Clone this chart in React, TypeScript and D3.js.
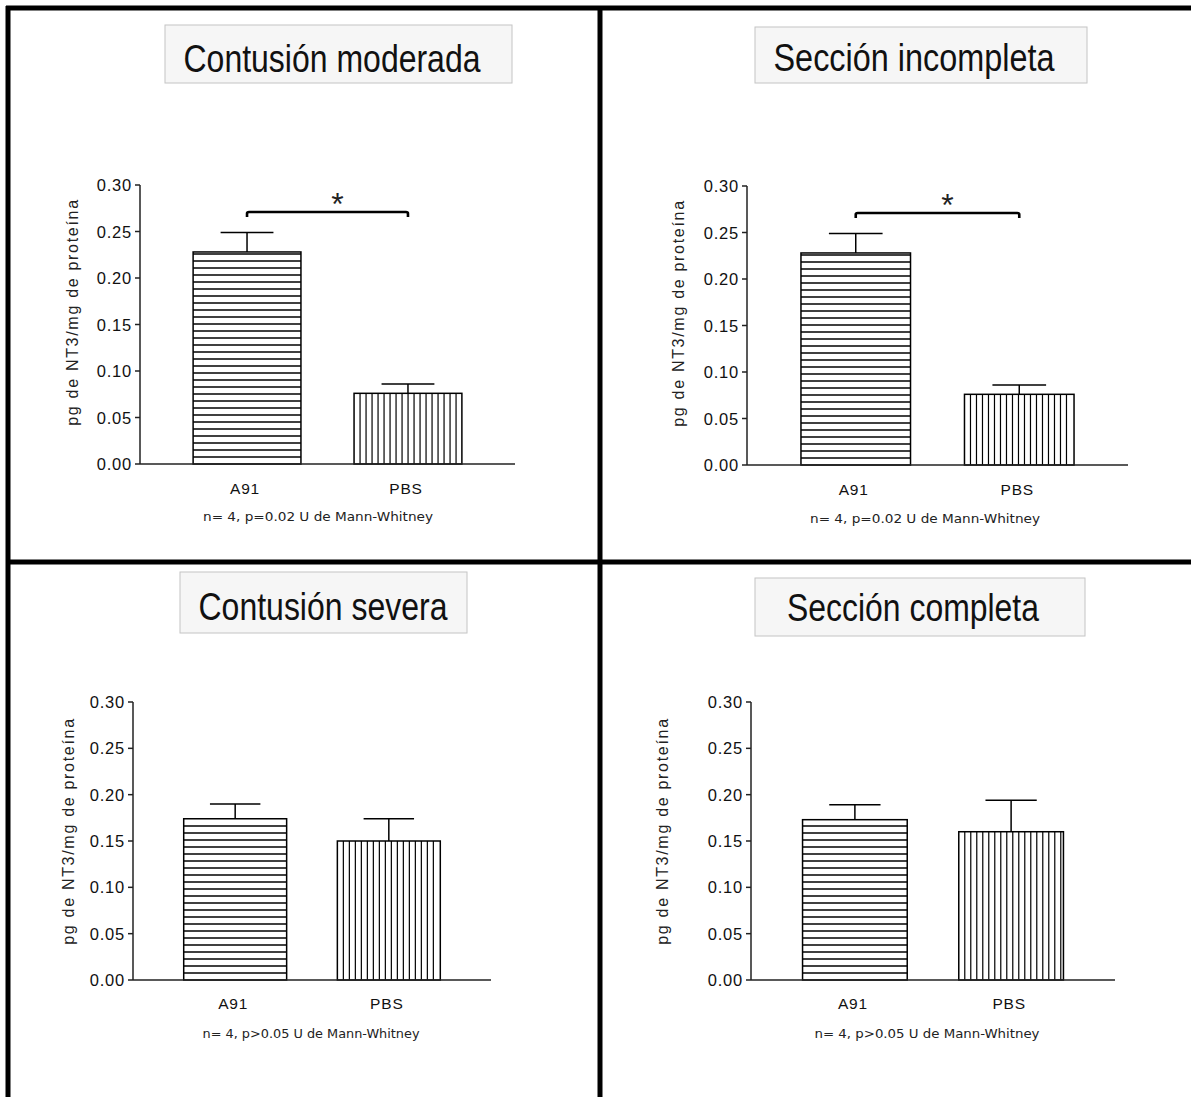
import React from "react";
import * as d3 from "d3";

// ---------- data ----------
const panelTitles = ["Contusión moderada", "Sección incompleta", "Contusión severa", "Sección completa"];
const categories = ["A91", "PBS"];
const meanA91 = [0.228, 0.228, 0.174, 0.173];
const meanPBS = [0.076, 0.076, 0.150, 0.160];
const errA91 = [0.021, 0.021, 0.016, 0.016];
const errPBS = [0.010, 0.010, 0.024, 0.034];
const significant = [true, true, false, false];
const notes = [
  "n= 4, p=0.02 U de Mann-Whitney",
  "n= 4, p=0.02 U de Mann-Whitney",
  "n= 4, p>0.05 U de Mann-Whitney",
  "n= 4, p>0.05 U de Mann-Whitney",
];
const yTicks = [0, 0.05, 0.1, 0.15, 0.2, 0.25, 0.3];
const yLabel = "pg de NT3/mg de proteína";
const bracketLevel = 0.271;

// ---------- layout (positions / styles) ----------
const layouts = [
  { x0: 140, x1: 515, yTop: 185, yBot: 464, labX: 78, labY: 312, box: [165, 25, 347, 58], titleX: 332, titleY: 72, titleW: 297, catY: 494, noteX: 318, noteY: 521, noteW: 230 },
  { x0: 747, x1: 1128, yTop: 186, yBot: 465, labX: 684, labY: 313, box: [755, 27, 332, 56], titleX: 914, titleY: 71, titleW: 281, catY: 495, noteX: 925, noteY: 523, noteW: 230 },
  { x0: 133, x1: 491, yTop: 702, yBot: 980, labX: 74, labY: 831, box: [180, 572, 287, 61], titleX: 323, titleY: 620, titleW: 249, catY: 1009, noteX: 311, noteY: 1038, noteW: 217 },
  { x0: 751, x1: 1115, yTop: 702, yBot: 980, labX: 668, labY: 831, box: [755, 578, 330, 58], titleX: 913, titleY: 621, titleW: 252, catY: 1009, noteX: 927, noteY: 1038, noteW: 225 },
];

const W = 1191;
const H = 1097;
const sans = "'Liberation Sans', Arial, sans-serif";

function Panel({ i }: { i: number }) {
  const L = layouts[i];
  const y = d3.scaleLinear().domain([0, 0.3]).range([L.yBot, L.yTop]);
  const x = d3.scaleBand<string>().domain(categories).range([L.x0, L.x1]).padding(0.33);
  const bw = x.bandwidth();
  const means = [meanA91[i], meanPBS[i]];
  const errs = [errA91[i], errPBS[i]];
  const [bx, by, bwid, bh] = L.box;

  return (
    <g>
      {/* title box */}
      <rect x={bx} y={by} width={bwid} height={bh} fill="#f6f6f6" stroke="#c4c4c4" strokeWidth={1} />
      <text x={L.titleX} y={L.titleY} textAnchor="middle" fontFamily={sans} fontSize={38}
        textLength={L.titleW} lengthAdjust="spacingAndGlyphs" fill="#111">{panelTitles[i]}</text>

      {/* y axis label */}
      <text transform={`translate(${L.labX},${L.labY}) rotate(-90)`} textAnchor="middle"
        fontFamily={sans} fontSize={16} letterSpacing={1.7} fill="#222">{yLabel}</text>

      {/* bars */}
      {categories.map((c, k) => {
        const x0 = x(c)!;
        const top = y(means[k]);
        const bot = y(0);
        const lines: JSX.Element[] = [];
        if (k === 0) {
          d3.range(bot - 7, top + 2, -7).forEach((yy, j) =>
            lines.push(<line key={j} x1={x0} x2={x0 + bw} y1={yy} y2={yy} stroke="#000" strokeWidth={1.3} />)
          );
        } else {
          d3.range(x0 + 6, x0 + bw - 2, 6).forEach((xx, j) =>
            lines.push(<line key={j} x1={xx} x2={xx} y1={top} y2={bot} stroke="#000" strokeWidth={1.2} />)
          );
        }
        const cx = x0 + bw / 2;
        const et = y(means[k] + errs[k]);
        return (
          <g key={c}>
            <rect x={x0} y={top} width={bw} height={bot - top} fill="#fff" />
            {lines}
            <rect x={x0} y={top} width={bw} height={bot - top} fill="none" stroke="#000" strokeWidth={1.5} />
            <line x1={cx} x2={cx} y1={top} y2={et} stroke="#000" strokeWidth={1.5} />
            <line x1={cx - bw * 0.245} x2={cx + bw * 0.245} y1={et} y2={et} stroke="#000" strokeWidth={1.5} />
            <text x={cx - 2} y={L.catY} textAnchor="middle" fontFamily={sans} fontSize={15.5}
              letterSpacing={0.8} fill="#111">{c}</text>
          </g>
        );
      })}

      {/* axes */}
      <line x1={L.x0} x2={L.x0} y1={L.yTop} y2={L.yBot} stroke="#222" strokeWidth={1.5} />
      <line x1={L.x0} x2={L.x1} y1={L.yBot} y2={L.yBot} stroke="#222" strokeWidth={1.5} />
      {yTicks.map((t) => (
        <g key={t}>
          <line x1={L.x0 - 5} x2={L.x0} y1={y(t)} y2={y(t)} stroke="#222" strokeWidth={1.5} />
          <text x={L.x0 - 8} y={y(t) + 6} textAnchor="end" fontFamily={sans} fontSize={16.5}
            letterSpacing={0.8} fill="#111">{d3.format(".2f")(t)}</text>
        </g>
      ))}

      {/* significance bracket */}
      {significant[i] && (() => {
        const xa = x(categories[0])! + bw / 2;
        const xb = x(categories[1])! + bw / 2;
        const yb = y(bracketLevel);
        return (
          <g>
            <path d={`M${xa},${yb + 5} L${xa},${yb + 1.5} Q${xa},${yb} ${xa + 2},${yb} L${xb - 2},${yb} Q${xb},${yb} ${xb},${yb + 1.5} L${xb},${yb + 5}`}
              fill="none" stroke="#000" strokeWidth={2.6} />
            <text x={(xa + xb) / 2 + 10} y={yb + 3} textAnchor="middle" fontFamily={sans} fontSize={32} fill="#222">*</text>
          </g>
        );
      })()}

      {/* note */}
      <text x={L.noteX} y={L.noteY} textAnchor="middle" fontFamily="'DejaVu Sans', Verdana, sans-serif" fontSize={12}
        textLength={L.noteW} lengthAdjust="spacingAndGlyphs" fill="#222">{notes[i]}</text>
    </g>
  );
}

export default function App() {
  return (
    <svg width={W} height={H} viewBox={`0 0 ${W} ${H}`} style={{ position: "absolute", left: 0, top: 0, background: "#fff" }}>
      <rect width={W} height={H} fill="#fff" />
      {layouts.map((_, i) => <Panel key={i} i={i} />)}
      {/* frame lines */}
      <line x1={6} x2={W} y1={8} y2={8} stroke="#000" strokeWidth={5} />
      <line x1={8} x2={8} y1={6} y2={H} stroke="#000" strokeWidth={5} />
      <line x1={600} x2={600} y1={6} y2={H} stroke="#000" strokeWidth={5} />
      <line x1={6} x2={W} y1={562} y2={562} stroke="#000" strokeWidth={5} />
    </svg>
  );
}
